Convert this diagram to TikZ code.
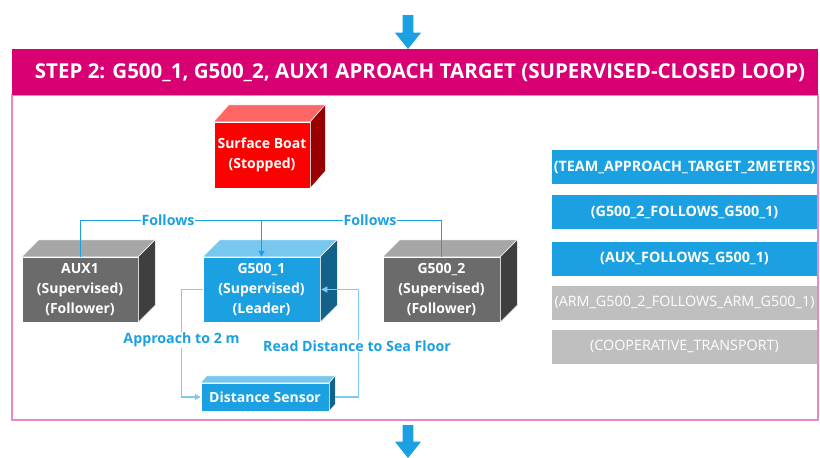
\documentclass[tikz,border=0pt]{standalone}
\usepackage{fontspec}
\setmainfont{Open Sans}
\usetikzlibrary{arrows.meta}
\definecolor{magentaband}{HTML}{D80073}
\definecolor{framepink}{HTML}{EE88C4}
\definecolor{mblue}{HTML}{1BA1E2}
\definecolor{mbluetop}{HTML}{78C7EF}
\definecolor{mblueside}{HTML}{13628A}
\definecolor{lineblue}{HTML}{7FCBF0}
\definecolor{gfront}{HTML}{6B6B6B}
\definecolor{gtop}{HTML}{A6A6A6}
\definecolor{gside}{HTML}{3F3F3F}
\definecolor{rfront}{HTML}{FF0000}
\definecolor{rtop}{HTML}{FF6666}
\definecolor{rside}{HTML}{990000}
\definecolor{btngray}{HTML}{BFBFBF}
\newcommand\cubefaces[5]{%
  \filldraw[fill=#4, draw=white, line width=0.5pt] (#1.north west) -- ([xshift=#2,yshift=#3]#1.north west) -- ([xshift=#2,yshift=#3]#1.north east) -- (#1.north east) -- cycle;
  \filldraw[fill=#5, draw=white, line width=0.5pt] (#1.north east) -- ([xshift=#2,yshift=#3]#1.north east) -- ([xshift=#2,yshift=#3]#1.south east) -- (#1.south east) -- cycle;
}
\begin{document}
\begin{tikzpicture}[x=1pt,y=-1pt,
  face/.style={inner sep=0pt, text=white, font=\fontsize{14}{20}\selectfont\bfseries, align=center, draw=white, line width=0.5pt},
  btn/.style={inner sep=0pt, minimum width=265pt, minimum height=34pt, text=white},
  btnon/.style={btn, fill=mblue, font=\fontsize{14.3}{16}\selectfont\bfseries},
  btnoff/.style={btn, fill=btngray, font=\fontsize{14.3}{16}\selectfont},
  lbl/.style={fill=white, inner sep=1pt, text=mblue, font=\fontsize{14.2}{16}\selectfont\bfseries},
  follow/.style={draw=mblue, line width=1pt},
  loopline/.style={draw=lineblue, line width=1.2pt},
  tip/.style={-{Triangle[length=6pt,width=6pt]}}
]
\useasboundingbox (0,0) rectangle (820,458);
\fill[white] (0,0) rectangle (820,458);

% big arrows
\fill[mblue] (402.7,15) -- (413.3,15) -- (413.3,32.7) -- (421,32.7) -- (408,49) -- (395,32.7) -- (402.7,32.7) -- cycle;
\fill[mblue] (402.7,425) -- (413.3,425) -- (413.3,441.7) -- (421,441.7) -- (408,458) -- (395,441.7) -- (402.7,441.7) -- cycle;

% frame
\draw[framepink, line width=1.5pt] (12,95) rectangle (818,420);
\fill[magentaband] (12,48.5) rectangle (818,95);
\node[text=white, font=\fontsize{20.5}{24}\selectfont\bfseries] (title) at (420,72.5) {STEP 2: G500\_1, G500\_2, AUX1 APROACH TARGET (SUPERVISED-CLOSED LOOP)};

% cubes
\node[face, fill=rfront, minimum width=96pt, minimum height=66pt] (boat) at (262,155) {Surface Boat\\(Stopped)};
\cubefaces{boat}{15pt}{17pt}{rtop}{rside}
\node[face, fill=gfront, minimum width=116pt, minimum height=65pt] (aux) at (80,289.5) {AUX1\\(Supervised)\\(Follower)};
\cubefaces{aux}{17pt}{17pt}{gtop}{gside}
\node[face, fill=mblue, minimum width=117pt, minimum height=65pt] (g1) at (261.5,289.5) {G500\_1\\(Supervised)\\(Leader)};
\cubefaces{g1}{17pt}{17pt}{mbluetop}{mblueside}
\node[face, fill=gfront, minimum width=117pt, minimum height=65pt] (g2) at (441.5,289.5) {G500\_2\\(Supervised)\\(Follower)};
\cubefaces{g2}{17pt}{17pt}{gtop}{gside}
\node[face, fill=mblue, minimum width=128pt, minimum height=28pt] (ds) at (265,397) {Distance Sensor};
\cubefaces{ds}{6pt}{7pt}{mbluetop}{mblueside}

% follows connectors
\coordinate (fl) at (0,220);
\draw[follow] (aux.north) -- (aux.north |- fl) -- (g2.north |- fl) -- (g2.north);
\draw[follow, tip] (g1.north |- fl) -- (g1.north);
\node[lbl] (fol1) at (168,220) {Follows};
\node[lbl] (fol2) at (370,220) {Follows};

% loop connectors
\draw[loopline, tip] (g1.west) -- ++(-21,0) |- (ds.west);
\draw[loopline, tip] ([xshift=6pt]ds.east) -- ++(23,0) |- ([xshift=1pt]g1.east);
\node[lbl] (appr) at (181.5,340) {Approach to 2 m};
\node[lbl] (read) at (357,346) {Read Distance to Sea Floor};

% buttons
\node[btnon] (b1) at (684.5,167) {(TEAM\_APPROACH\_TARGET\_2METERS)};
\node[btnon] (b2) at (684.5,212) {(G500\_2\_FOLLOWS\_G500\_1)};
\node[btnon] (b3) at (684.5,258.5) {(AUX\_FOLLOWS\_G500\_1)};
\node[btnoff] (b4) at (684.5,302.5) {(ARM\_G500\_2\_FOLLOWS\_ARM\_G500\_1)};
\node[btnoff] (b5) at (684.5,346.5) {(COOPERATIVE\_TRANSPORT)};
\end{tikzpicture}
\end{document}
